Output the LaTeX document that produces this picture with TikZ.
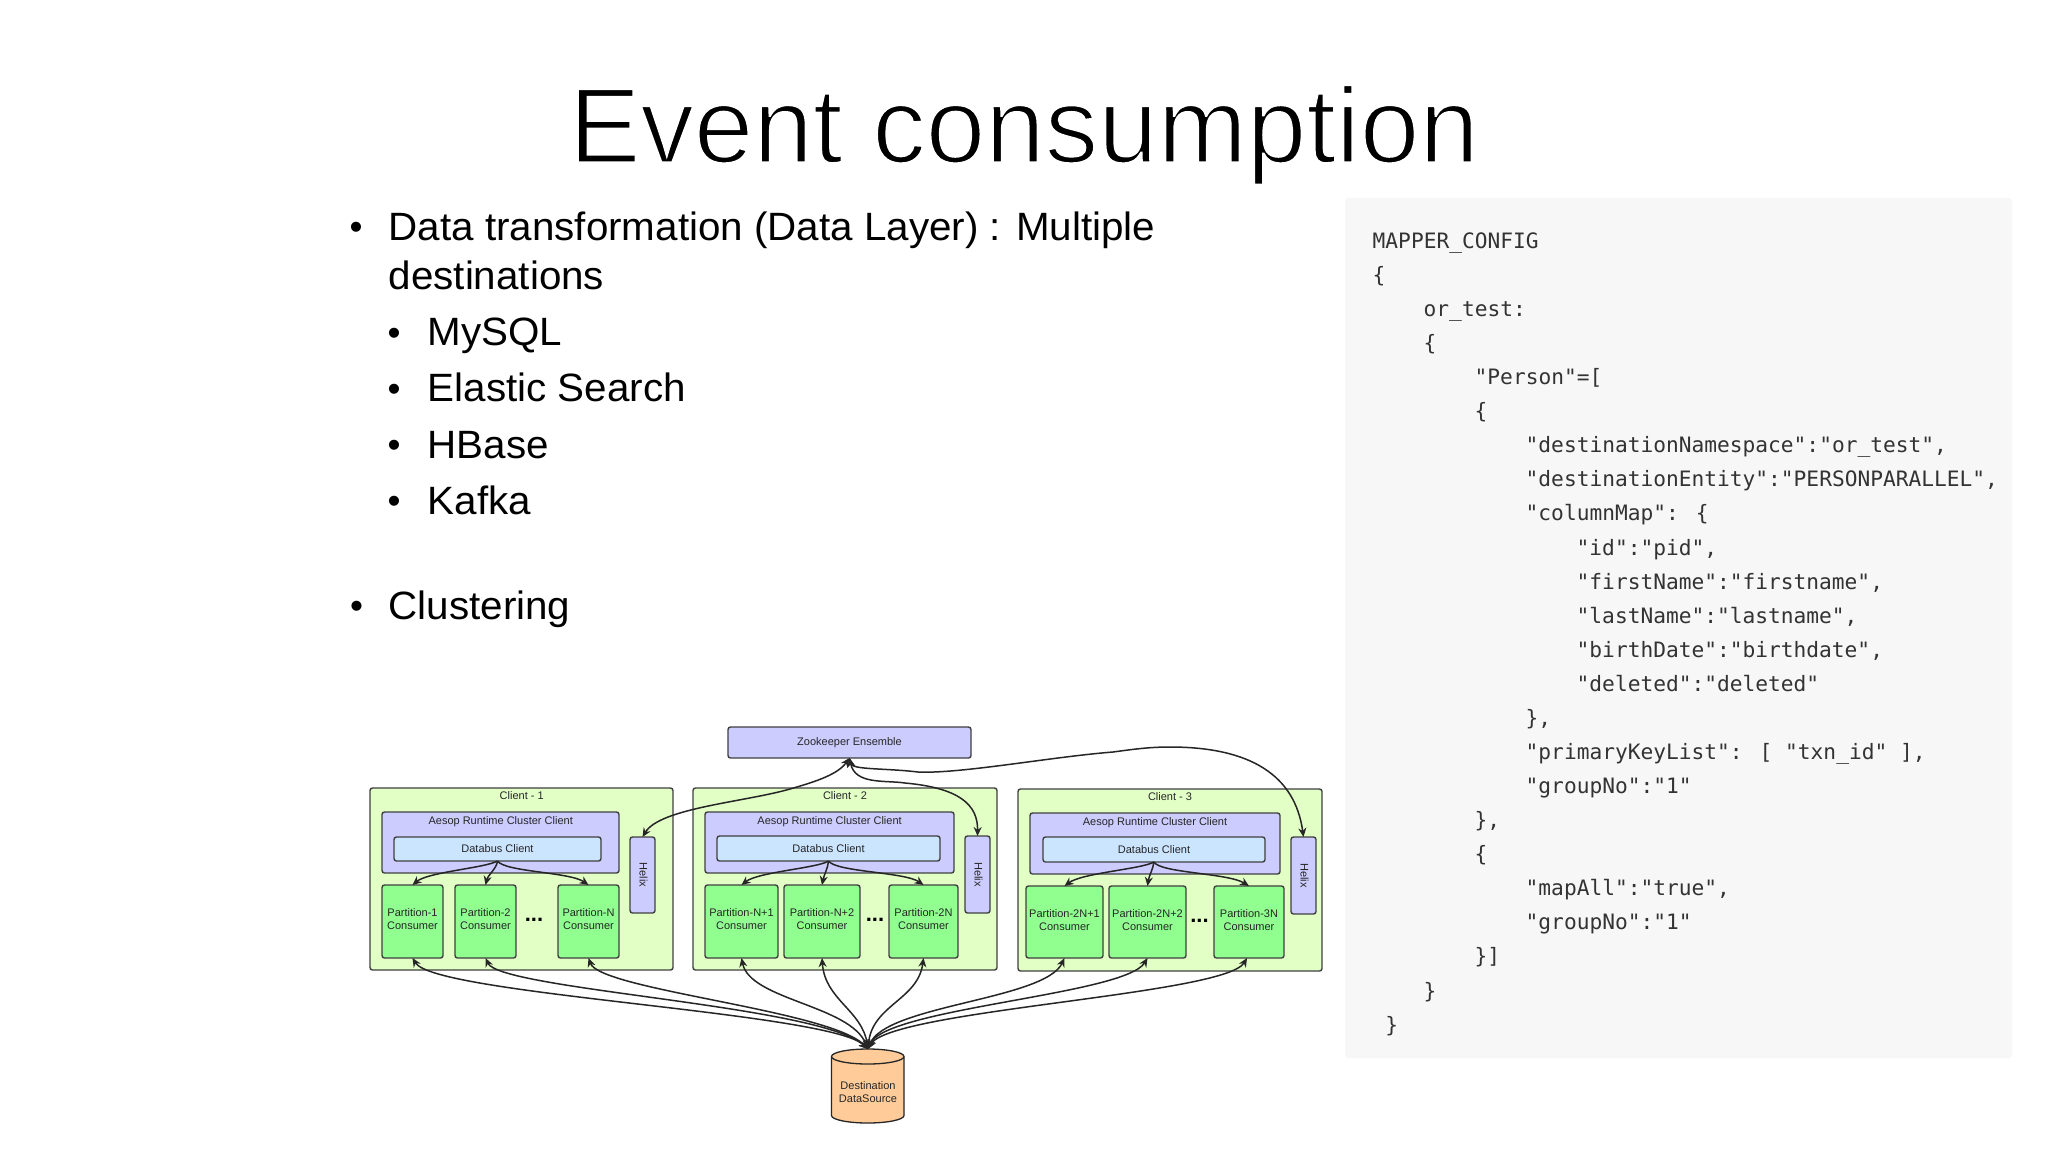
\documentclass[tikz,border=0pt]{standalone}
\usepackage{fontspec}
\setmainfont{Liberation Sans}
\newfontfamily\bodyfont{Liberation Sans}[FakeStretch=1.022]
\newfontfamily\codefont{DejaVu Sans Mono}
\usetikzlibrary{arrows.meta}
\definecolor{cli}{HTML}{E2FFC6}
\definecolor{aes}{HTML}{CCCCFF}
\definecolor{dbc}{HTML}{CCE5FF}
\definecolor{par}{HTML}{90FF90}
\definecolor{cyl}{HTML}{FFCC99}
\definecolor{panel}{HTML}{F7F7F7}
\definecolor{codec}{HTML}{333333}
\tikzset{
  x=1pt,y=-1pt,
  box/.style={draw=black!75,line width=1.4pt,rounded corners=2.5pt,inner sep=0pt,outer sep=0pt},
  lab/.style={font=\fontsize{11}{13}\selectfont,text=black!85,align=center,inner sep=0pt},
  conn/.style={draw=black!85,line width=1.5pt},
  bi/.style={conn,{Stealth[length=9pt,width=8pt]}-{Stealth[length=9pt,width=8pt]}},
  fw/.style={conn,-{Stealth[length=9pt,width=8pt]}},
  code/.style={anchor=base west,font=\codefont\fontsize{21.2}{26}\selectfont,text=codec,inner sep=0pt},
  bul/.style={anchor=base west,font=\bodyfont\fontsize{39.5}{48}\selectfont,inner sep=0pt},
  dot/.style={anchor=base,font=\fontsize{37}{37}\selectfont,inner sep=0pt},
  dots/.style={anchor=base,font=\bfseries\fontsize{22}{22}\selectfont,inner sep=0pt},
}
% name, x0, y0, x1, y1, style
\newcommand\mybox[6]{%
  \pgfmathsetmacro\bcx{(#2+#4)/2}\pgfmathsetmacro\bcy{(#3+#5)/2}%
  \pgfmathsetmacro\bw{#4-#2}\pgfmathsetmacro\bh{#5-#3}%
  \node[box,#6,minimum width=\bw pt,minimum height=\bh pt] (#1) at (\bcx,\bcy) {};}
% name, x0, y0, x1, y1, line 1, line 2
\newcommand\consumer[7]{%
  \mybox{#1}{#2}{#3}{#4}{#5}{fill=par}%
  \node[lab] (#1t) at (\bcx,\bcy-2) {#6\\#7};}
\newcommand\codeline[3]{\node[code] (#1) at ({1372.5+12.75*#2},{248.3+34.08*#1}) {#3};}
\begin{document}
\begin{tikzpicture}
\useasboundingbox (0,0) rectangle (2048,1152);
\fill[white] (0,0) rectangle (2048,1152);
\node[anchor=base,font=\fontsize{107}{120}\selectfont,inner sep=0pt] (title) at (1024,162.5)
  {\special{pdf:code q 1 1 1 RG 2.4 w 2 Tr}Event consumption\special{pdf:code Q}};

% bullets
\node[dot] (b1) at (356,239) {•};
\node[bul] (t1) at (388.5,240) {Data transformation (Data Layer) : Multiple};
\node[bul] (t1b) at (388.5,289) {destinations};
\node[dot] (b2) at (394,345) {•};
\node[bul] (t2) at (427.5,345.7) {MySQL};
\node[dot] (b3) at (394,401) {•};
\node[bul] (t3) at (427.5,401.7) {Elastic Search};
\node[dot] (b4) at (394,457.5) {•};
\node[bul] (t4) at (427.5,458.3) {HBase};
\node[dot] (b5) at (394,513.5) {•};
\node[bul] (t5) at (427.5,514.3) {Kafka};
\node[dot] (b6) at (356.7,618) {•};
\node[bul] (t6) at (388.5,619.3) {Clustering};

% code panel
\fill[panel,rounded corners=3pt] (1345,198) rectangle (2012,1058);
\codeline{0}{0}{MAPPER\_CONFIG}
\codeline{1}{0}{\{}
\codeline{2}{4}{or\_test:}
\codeline{3}{4}{\{}
\codeline{4}{8}{"Person"=[}
\codeline{5}{8}{\{}
\codeline{6}{12}{"destinationNamespace":"or\_test",}
\codeline{7}{12}{"destinationEntity":"PERSONPARALLEL",}
\codeline{8}{12}{"columnMap": \{}
\codeline{9}{16}{"id":"pid",}
\codeline{10}{16}{"firstName":"firstname",}
\codeline{11}{16}{"lastName":"lastname",}
\codeline{12}{16}{"birthDate":"birthdate",}
\codeline{13}{16}{"deleted":"deleted"}
\codeline{14}{12}{\},}
\codeline{15}{12}{"primaryKeyList": [ "txn\_id" ],}
\codeline{16}{12}{"groupNo":"1"}
\codeline{17}{8}{\},}
\codeline{18}{8}{\{}
\codeline{19}{12}{"mapAll":"true",}
\codeline{20}{12}{"groupNo":"1"}
\codeline{21}{8}{\}]}
\codeline{22}{4}{\}}
\codeline{23}{1}{\}}

% clients
\mybox{c1}{370}{788}{673}{970}{fill=cli}
\mybox{c2}{693}{788}{997}{970}{fill=cli}
\mybox{c3}{1018}{789}{1322}{971}{fill=cli}
\node[lab] (c1t) at (521.7,796) {Client - 1};
\node[lab] (c2t) at (845,796) {Client - 2};
\node[lab] (c3t) at (1170,797) {Client - 3};

\mybox{a1}{382}{812}{619}{873}{fill=aes}
\mybox{a2}{705}{812}{954}{873}{fill=aes}
\mybox{a3}{1030}{813}{1280}{874}{fill=aes}
\node[lab] (a1t) at (500.7,822) {Aesop Runtime Cluster Client};
\node[lab] (a2t) at (829.6,822) {Aesop Runtime Cluster Client};
\node[lab] (a3t) at (1155,823) {Aesop Runtime Cluster Client};

\mybox{d1}{394}{837}{601}{861}{fill=dbc}
\mybox{d2}{717}{836}{940}{861}{fill=dbc}
\mybox{d3}{1043}{837}{1265}{862}{fill=dbc}
\node[lab] (d1t) at (d1.center) {Databus Client};
\node[lab] (d2t) at (d2.center) {Databus Client};
\node[lab] (d3t) at (d3.center) {Databus Client};

\mybox{h1}{630}{837}{655}{913}{fill=aes}
\mybox{h2}{965}{836}{990}{913}{fill=aes}
\mybox{h3}{1291}{837}{1316}{914}{fill=aes}
\node[lab,rotate=-90] (h1t) at ([xshift=1pt]h1.center) {Helix};
\node[lab,rotate=-90] (h2t) at ([xshift=1pt]h2.center) {Helix};
\node[lab,rotate=-90] (h3t) at ([xshift=1pt]h3.center) {Helix};

\consumer{p11}{382}{885}{443}{958}{Partition-1}{Consumer}
\consumer{p12}{455}{885}{516}{958}{Partition-2}{Consumer}
\consumer{p13}{558}{885}{619}{958}{Partition-N}{Consumer}
\consumer{p21}{705}{885}{778}{958}{Partition-N+1}{Consumer}
\consumer{p22}{784}{885}{860}{958}{Partition-N+2}{Consumer}
\consumer{p23}{889}{885}{958}{958}{Partition-2N}{Consumer}
\consumer{p31}{1026}{886}{1103}{958}{Partition-2N+1}{Consumer}
\consumer{p32}{1109}{886}{1186}{958}{Partition-2N+2}{Consumer}
\consumer{p33}{1214}{886}{1284}{958}{Partition-3N}{Consumer}
\node[dots] (e1) at (534,921) {...};
\node[dots] (e2) at (875,921) {...};
\node[dots] (e3) at (1199.5,922) {...};

% zookeeper
\mybox{zk}{728}{727}{971}{758}{fill=aes}
\node[lab] (zkt) at (zk) {Zookeeper Ensemble};

% data source
\filldraw[fill=cyl,draw=black!85,line width=1.3pt]
  (831.5,1056.5) arc[start angle=180,end angle=0,x radius=36.25pt,y radius=7.5pt]
  -- (904,1115.5) arc[start angle=0,end angle=-180,x radius=36.25pt,y radius=7.5pt] -- cycle;
\draw[draw=black!85,line width=1.3pt]
  (831.5,1056.5) arc[start angle=180,end angle=360,x radius=36.25pt,y radius=7.5pt];
\node[inner sep=0pt,outer sep=0pt,minimum width=72pt,minimum height=74pt] (ds) at (868,1086) {};
\node[lab] (dst) at (868,1092) {Destination\\DataSource};

% databus to consumers
\draw[fw] (d1.south) .. controls (485,868) and (428,872) .. (p11.north);
\draw[fw] (d1.south) .. controls (497,868) and (488,875) .. (p12.north);
\draw[fw] (d1.south) .. controls (505,872) and (570,872) .. (p13.north);
\draw[fw] (d2.south) .. controls (818,868) and (758,872) .. (p21.north);
\draw[fw] (d2.south) .. controls (828,868) and (824,875) .. (p22.north);
\draw[fw] (d2.south) .. controls (836,872) and (905,872) .. (p23.north);
\draw[fw] (d3.south) .. controls (1142,869) and (1082,873) .. (p31.north);
\draw[fw] (d3.south) .. controls (1153,869) and (1149,876) .. (p32.north);
\draw[fw] (d3.south) .. controls (1160,873) and (1228,873) .. (p33.north);

% zookeeper to helix
\draw[bi] (zk.south) .. controls (838,774) and (818,781) .. (790,789) .. controls (745,802) and (660,808) .. (h1.north);
\draw[bi] (zk.south) .. controls (855,785) and (885,780) .. (905,783) .. controls (960,788) and (978,805) .. (h2.north);
\draw[bi] (zk.south) .. controls (852,770) and (885,768) .. (918,772) .. controls (960,774) and (1050,757) .. (1113,752) .. controls (1135,749) and (1150,747) .. (1170,747) .. controls (1250,747) and (1295,775) .. (h3.north);

% consumers to data source
\draw[bi] (p11.south) .. controls (435,995) and (830,1012) .. (ds.north);
\draw[bi] (p12.south) .. controls (500,990) and (820,1005) .. (ds.north);
\draw[bi] (p13.south) .. controls (600,990) and (830,1010) .. (ds.north);
\draw[bi] (p21.south) .. controls (750,1000) and (850,1005) .. (ds.north);
\draw[bi] (p22.south) .. controls (825,1000) and (862,1010) .. (ds.north);
\draw[bi] (p23.south) .. controls (918,1000) and (872,1005) .. (ds.north);
\draw[bi] (p31.south) .. controls (1045,1000) and (885,1005) .. (ds.north);
\draw[bi] (p32.south) .. controls (1125,995) and (885,1008) .. (ds.north);
\draw[bi] ([xshift=-2pt]p33.south) .. controls (1225,995) and (890,1010) .. (ds.north);
\end{tikzpicture}
\end{document}
